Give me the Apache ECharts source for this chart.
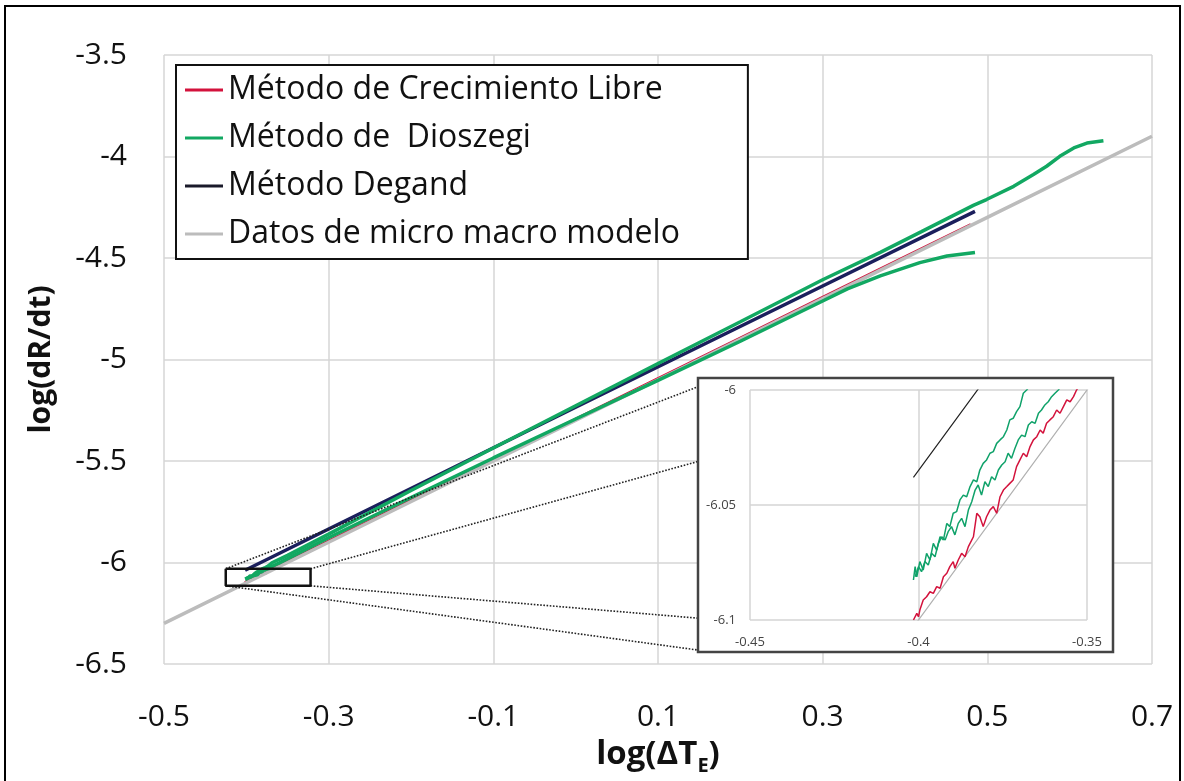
<!DOCTYPE html>
<html>
<head>
<meta charset="utf-8">
<script src="https://cdn.jsdelivr.net/npm/echarts@6/dist/echarts.min.js"></script>
<style>
  html, body { margin: 0; padding: 0; background: #fff; }
  #chart { width: 1184px; height: 781px; }
</style>
</head>
<body>
<div id="chart"></div>
<script>
// ---- series names (legend order) ----
const nameLibre = 'Método de Crecimiento Libre';
const nameDioszegi = 'Método de  Dioszegi';
const nameDegand = 'Método Degand';
const nameModelo = 'Datos de micro macro modelo';

// ---- data: [log(ΔT_E), log(dR/dt)] ----
const crecimientoLibre = [
  [-0.4015,-6.1000],[-0.4005,-6.0971],[-0.4000,-6.0986],[-0.3996,-6.0957],[-0.3986,-6.0913],
  [-0.3976,-6.0899],[-0.3966,-6.0877],[-0.3956,-6.0884],[-0.3946,-6.0855],[-0.3936,-6.0862],
  [-0.3926,-6.0812],[-0.3916,-6.0797],[-0.3907,-6.0768],[-0.3897,-6.0746],[-0.3892,-6.0775],
  [-0.3882,-6.0739],[-0.3872,-6.0710],[-0.3862,-6.0725],[-0.3852,-6.0681],[-0.3837,-6.0638],
  [-0.3827,-6.0536],[-0.3818,-6.0551],[-0.3808,-6.0594],[-0.3798,-6.0551],[-0.3788,-6.0522],
  [-0.3778,-6.0507],[-0.3768,-6.0536],[-0.3758,-6.0464],[-0.3748,-6.0435],[-0.3738,-6.0420],
  [-0.3729,-6.0406],[-0.3719,-6.0391],[-0.3709,-6.0333],[-0.3699,-6.0304],[-0.3689,-6.0275],
  [-0.3679,-6.0290],[-0.3669,-6.0246],[-0.3659,-6.0217],[-0.3649,-6.0203],[-0.3639,-6.0174],
  [-0.3630,-6.0188],[-0.3620,-6.0145],[-0.3610,-6.0130],[-0.3600,-6.0116],[-0.3590,-6.0087],
  [-0.3580,-6.0101],[-0.3570,-6.0072],[-0.3560,-6.0043],[-0.3550,-6.0051],[-0.3540,-6.0029],
  [-0.3531,-6.0000],
  [-0.3,-5.894],[-0.2,-5.694],[-0.1,-5.494],[0.0,-5.294],[0.1,-5.094],
  [0.2,-4.894],[0.3,-4.694],[0.4,-4.494],[0.48,-4.336]
];

// Dioszegi, upper branch
const dioszegiA = [
  [-0.4015,-6.0826],[-0.4010,-6.0768],[-0.4005,-6.0812],[-0.3996,-6.0746],[-0.3986,-6.0783],
  [-0.3976,-6.0710],[-0.3966,-6.0739],[-0.3956,-6.0667],[-0.3946,-6.0696],[-0.3936,-6.0638],
  [-0.3926,-6.0652],[-0.3916,-6.0580],[-0.3907,-6.0594],[-0.3897,-6.0536],[-0.3887,-6.0529],
  [-0.3877,-6.0478],[-0.3867,-6.0457],[-0.3857,-6.0464],[-0.3847,-6.0420],[-0.3837,-6.0391],
  [-0.3827,-6.0399],[-0.3818,-6.0348],[-0.3808,-6.0319],[-0.3798,-6.0304],[-0.3788,-6.0275],
  [-0.3778,-6.0268],[-0.3768,-6.0232],[-0.3758,-6.0217],[-0.3748,-6.0203],[-0.3738,-6.0174],
  [-0.3729,-6.0130],[-0.3719,-6.0123],[-0.3709,-6.0094],[-0.3699,-6.0072],[-0.3689,-6.0014],
  [-0.3679,-6.0000],
  [-0.35,-5.965],[-0.3,-5.860],[-0.2,-5.645],[-0.1,-5.436],[0.0,-5.228],[0.1,-5.020],
  [0.2,-4.814],[0.3,-4.607],[0.37,-4.472],[0.42,-4.370],[0.483,-4.241],[0.499,-4.212],
  [0.532,-4.147],[0.556,-4.089],[0.572,-4.048],[0.588,-3.999],[0.605,-3.958],
  [0.621,-3.934],[0.641,-3.922]
];

// Dioszegi, lower branch
const dioszegiB = [
  [-0.4010,-6.0812],[-0.4000,-6.0768],[-0.3991,-6.0790],[-0.3981,-6.0746],[-0.3971,-6.0761],
  [-0.3961,-6.0710],[-0.3951,-6.0725],[-0.3941,-6.0667],[-0.3931,-6.0638],[-0.3921,-6.0652],
  [-0.3912,-6.0616],[-0.3902,-6.0594],[-0.3892,-6.0630],[-0.3882,-6.0580],[-0.3872,-6.0558],
  [-0.3862,-6.0594],[-0.3852,-6.0522],[-0.3842,-6.0486],[-0.3832,-6.0435],[-0.3823,-6.0413],
  [-0.3813,-6.0457],[-0.3803,-6.0399],[-0.3793,-6.0420],[-0.3783,-6.0377],[-0.3773,-6.0391],
  [-0.3763,-6.0348],[-0.3753,-6.0326],[-0.3743,-6.0312],[-0.3734,-6.0275],[-0.3724,-6.0297],
  [-0.3714,-6.0254],[-0.3704,-6.0217],[-0.3694,-6.0196],[-0.3684,-6.0203],[-0.3674,-6.0152],
  [-0.3664,-6.0138],[-0.3654,-6.0145],[-0.3644,-6.0101],[-0.3635,-6.0087],[-0.3625,-6.0065],
  [-0.3615,-6.0051],[-0.3605,-6.0029],[-0.3595,-6.0014],[-0.3585,-6.0000],
  [-0.3,-5.878],[-0.2,-5.680],[-0.1,-5.485],[0.0,-5.293],[0.1,-5.103],[0.2,-4.910],
  [0.3,-4.712],[0.33,-4.652],[0.37,-4.588],[0.418,-4.523],[0.451,-4.490],[0.485,-4.473]
];

const degand = [
  [-0.4015,-6.038],[-0.3,-5.835],[0.0,-5.235],[0.3,-4.638],[0.485,-4.270]
];

const microMacro = [
  [-0.5,-6.3],[-0.3,-5.9],[-0.1,-5.5],[0.1,-5.1],[0.3,-4.7],[0.5,-4.3],[0.7,-3.9]
];

// zoomed window outline and its dotted leader lines (main-axis units)
const zoomBox = [[-0.425,-6.031],[-0.322,-6.031],[-0.322,-6.115],[-0.425,-6.115],[-0.425,-6.031]];
const zoomLinks = [
  [[-0.425,-6.031],[0.148,-5.135]],
  [[-0.322,-6.031],[0.148,-5.503]],
  [[-0.322,-6.115],[0.148,-6.274]],
  [[-0.425,-6.115],[0.148,-6.431]]
];

// axis ranges
const mainX = { min: -0.5, max: 0.7, step: 0.2 };
const mainY = { min: -6.5, max: -3.5, step: 0.5 };
const insetX = { min: -0.45, max: -0.35, step: 0.05 };
const insetY = { min: -6.1, max: -6.0, step: 0.05 };

const colors = { libre: '#d3123c', dioszegi: '#12a862', degand: '#1b1f5c', modelo: '#bcbcbc' };
const FONT = 'Open Sans';
const fmt = v => String(+v.toFixed(2));

function lineSeries(name, data, color, width, axis, z, extra) {
  return Object.assign({
    type: 'line', name, data,
    xAxisIndex: axis, yAxisIndex: axis,
    showSymbol: false, symbol: 'none',
    lineStyle: { color, width }, itemStyle: { color },
    z, silent: true
  }, extra || {});
}

const chart = echarts.init(document.getElementById('chart'), null, { renderer: 'canvas' });

const option = {
  animation: false,
  backgroundColor: '#fff',
  textStyle: { fontFamily: FONT },
  grid: [
    { left: 164, right: 32, top: 55, bottom: 115 },
    { left: 750, top: 390, width: 337, height: 230 }
  ],
  xAxis: [
    {
      type: 'value', gridIndex: 0, min: mainX.min, max: mainX.max, interval: mainX.step,
      axisLine: { show: false }, axisTick: { show: false },
      splitLine: { show: true, lineStyle: { color: '#d6d6d6', width: 1.5 } },
      axisLabel: { formatter: fmt, fontSize: 30, color: '#111', margin: 38, fontFamily: FONT },
      name: '{a|log(ΔT}{s|E}{a|)}', nameLocation: 'middle', nameGap: 70,
      nameTextStyle: {
        rich: {
          a: { fontSize: 33, fontWeight: 'bold', color: '#111', fontFamily: FONT, lineHeight: 42 },
          s: { fontSize: 20, fontWeight: 'bold', color: '#111', fontFamily: FONT, verticalAlign: 'bottom', lineHeight: 20 }
        }
      }
    },
    {
      type: 'value', gridIndex: 1, min: insetX.min, max: insetX.max, interval: insetX.step,
      axisLine: { show: false }, axisTick: { show: false }, z: 4,
      splitLine: { show: true, lineStyle: { color: '#d4d4d4', width: 1.5 } },
      axisLabel: { formatter: fmt, fontSize: 13, color: '#444', margin: 16, fontFamily: FONT }
    }
  ],
  yAxis: [
    {
      type: 'value', gridIndex: 0, min: mainY.min, max: mainY.max, interval: mainY.step,
      axisLine: { show: false }, axisTick: { show: false },
      splitLine: { show: true, lineStyle: { color: '#d6d6d6', width: 1.5 } },
      axisLabel: { formatter: fmt, fontSize: 30, color: '#111', margin: 37, fontFamily: FONT },
      name: 'log(dR/dt)', nameLocation: 'middle', nameGap: 108,
      nameTextStyle: { fontSize: 30, fontWeight: 'bold', color: '#111', fontFamily: FONT }
    },
    {
      type: 'value', gridIndex: 1, min: insetY.min, max: insetY.max, interval: insetY.step,
      axisLine: { show: false }, axisTick: { show: false }, z: 4,
      splitLine: { show: true, lineStyle: { color: '#d4d4d4', width: 1.5 } },
      axisLabel: { formatter: fmt, fontSize: 13, color: '#444', margin: 14, fontFamily: FONT }
    }
  ],
  legend: {
    data: [
      nameLibre, nameDioszegi,
      { name: nameDegand, itemStyle: { color: '#1a1a2a' } },
      nameModelo
    ],
    orient: 'vertical', left: 176, top: 65,
    icon: 'rect', itemWidth: 38, itemHeight: 3, itemGap: 0,
    padding: [1, 68, 1, 9],
    backgroundColor: '#fff', borderColor: '#111', borderWidth: 2,
    textStyle: { fontSize: 32, color: '#111', fontFamily: FONT, lineHeight: 48 },
    selectedMode: false, z: 6
  },
  graphic: [
    {
      type: 'rect', z: 3, silent: true,
      shape: { x: 698, y: 378, width: 415, height: 274 },
      style: { fill: '#fff', stroke: '#444', lineWidth: 2.5 }
    },
    {
      type: 'rect', z: 20, silent: true,
      shape: { x: 5, y: 6, width: 1175, height: 800 },
      style: { fill: 'none', stroke: '#000', lineWidth: 2 }
    }
  ],
  series: [
    // main plot
    lineSeries(nameLibre, crecimientoLibre, colors.libre, 3, 0, 2),
    lineSeries(nameModelo, microMacro, colors.modelo, 3.5, 0, 2),
    lineSeries(nameDioszegi, dioszegiB, colors.dioszegi, 3.5, 0, 2),
    lineSeries(nameDegand, degand, colors.degand, 3.5, 0, 2),
    lineSeries(nameDioszegi, dioszegiA, colors.dioszegi, 3.5, 0, 2),
    // zoom window and leaders
    ...zoomLinks.map(seg => lineSeries('', seg, '#222', 1.6, 0, 2, { lineStyle: { color: '#222', width: 1.6, type: 'dotted' } })),
    lineSeries('', zoomBox, '#111', 2.5, 0, 10),
    // inset plot
    lineSeries(nameModelo, microMacro, '#b0b0b0', 1.2, 1, 5),
    lineSeries(nameLibre, crecimientoLibre, colors.libre, 1.5, 1, 5),
    lineSeries(nameDioszegi, dioszegiB, '#10a26a', 1.5, 1, 5),
    lineSeries(nameDioszegi, dioszegiA, '#10a26a', 1.5, 1, 5),
    lineSeries(nameDegand, degand, '#222', 1.2, 1, 5)
  ]
};

chart.setOption(option);
</script>
</body>
</html>
